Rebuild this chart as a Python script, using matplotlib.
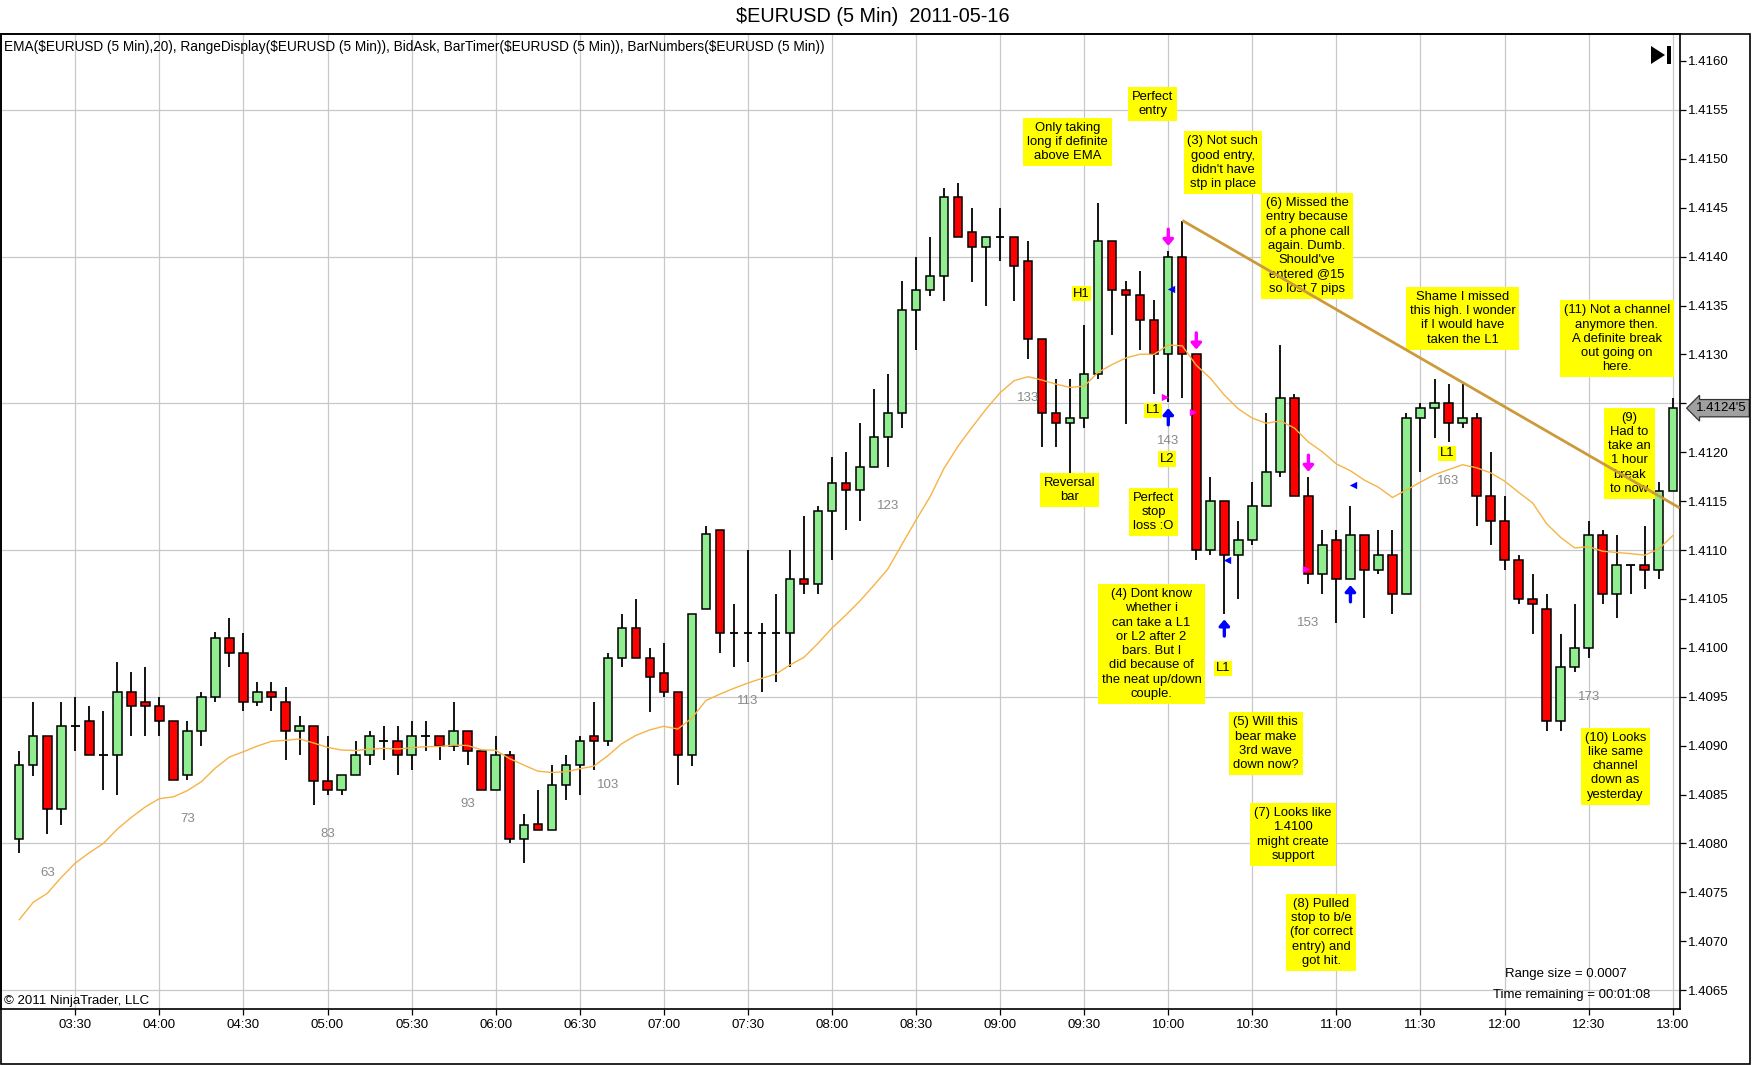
import matplotlib
matplotlib.use("Agg")
import matplotlib.pyplot as plt
from matplotlib.patches import Rectangle, Polygon
from matplotlib.transforms import blended_transform_factory

plt.rcParams['font.family'] = ['Liberation Sans', 'DejaVu Sans']

# bar numbers run 61..179, one bar every 5 minutes from 03:10 to 13:00
first_bar = 61

opens = [1.40805, 1.40880, 1.40910, 1.40835, 1.40920, 1.40925, 1.40890, 1.40890, 1.40955, 1.40945,
         1.40940, 1.40925, 1.40870, 1.40915, 1.40950, 1.41010, 1.40995, 1.40945, 1.40955, 1.40945,
         1.40915, 1.40920, 1.40864, 1.40855, 1.40870, 1.40890, 1.40905, 1.40905, 1.40890, 1.40910,
         1.40910, 1.40900, 1.40915, 1.40895, 1.40855, 1.40890, 1.40805, 1.40820, 1.40814, 1.40860,
         1.40880, 1.40910, 1.40905, 1.40990, 1.41020, 1.40990, 1.40974, 1.40955, 1.40890, 1.41040,
         1.41120, 1.41015, 1.41015, 1.41015, 1.41015, 1.41015, 1.41070, 1.41065, 1.41140, 1.41169,
         1.41161, 1.41185, 1.41216, 1.41240, 1.41345, 1.41366, 1.41380, 1.41461, 1.41425, 1.41410,
         1.41420, 1.41420, 1.41396, 1.41316, 1.41240, 1.41230, 1.41235, 1.41280, 1.41416, 1.41366,
         1.41361, 1.41335, 1.41300, 1.41400, 1.41300, 1.41100, 1.41150, 1.41095, 1.41110, 1.41145,
         1.41180, 1.41255, 1.41155, 1.41075, 1.41110, 1.41070, 1.41115, 1.41080, 1.41095, 1.41055,
         1.41235, 1.41245, 1.41250, 1.41230, 1.41235, 1.41155, 1.41130, 1.41090, 1.41050, 1.41040,
         1.40925, 1.40980, 1.41000, 1.41115, 1.41055, 1.41085, 1.41085, 1.41080, 1.41160]
highs = [1.40895, 1.40945, 1.40910, 1.40945, 1.40950, 1.40940, 1.40935, 1.40985, 1.40975, 1.40980,
         1.40950, 1.40925, 1.40925, 1.40955, 1.41016, 1.41030, 1.41015, 1.40965, 1.40965, 1.40960,
         1.40930, 1.40920, 1.40910, 1.40870, 1.40905, 1.40915, 1.40920, 1.40920, 1.40925, 1.40925,
         1.40910, 1.40945, 1.40915, 1.40895, 1.40910, 1.40895, 1.40830, 1.40855, 1.40880, 1.40890,
         1.40910, 1.40945, 1.40995, 1.41035, 1.41050, 1.41000, 1.41005, 1.40955, 1.41035, 1.41125,
         1.41120, 1.41045, 1.41100, 1.41025, 1.41055, 1.41100, 1.41135, 1.41145, 1.41195, 1.41200,
         1.41230, 1.41265, 1.41280, 1.41375, 1.41400, 1.41420, 1.41470, 1.41475, 1.41450, 1.41420,
         1.41450, 1.41420, 1.41416, 1.41316, 1.41275, 1.41275, 1.41330, 1.41455, 1.41416, 1.41375,
         1.41385, 1.41356, 1.41406, 1.41436, 1.41300, 1.41175, 1.41150, 1.41130, 1.41170, 1.41240,
         1.41310, 1.41260, 1.41175, 1.41120, 1.41120, 1.41145, 1.41115, 1.41120, 1.41120, 1.41240,
         1.41250, 1.41275, 1.41270, 1.41270, 1.41240, 1.41200, 1.41155, 1.41095, 1.41075, 1.41055,
         1.41014, 1.41045, 1.41130, 1.41120, 1.41115, 1.41085, 1.41125, 1.41170, 1.41255]
lows = [1.40790, 1.40869, 1.40810, 1.40819, 1.40895, 1.40890, 1.40855, 1.40850, 1.40910, 1.40910,
        1.40910, 1.40865, 1.40865, 1.40900, 1.40945, 1.40980, 1.40935, 1.40940, 1.40935, 1.40885,
        1.40890, 1.40839, 1.40850, 1.40850, 1.40870, 1.40880, 1.40885, 1.40870, 1.40875, 1.40895,
        1.40885, 1.40895, 1.40880, 1.40855, 1.40855, 1.40800, 1.40780, 1.40814, 1.40814, 1.40844,
        1.40850, 1.40875, 1.40900, 1.40980, 1.40990, 1.40934, 1.40950, 1.40860, 1.40879, 1.41040,
        1.40995, 1.40980, 1.40985, 1.40955, 1.40965, 1.40980, 1.41055, 1.41055, 1.41090, 1.41120,
        1.41130, 1.41185, 1.41185, 1.41225, 1.41305, 1.41360, 1.41355, 1.41420, 1.41374, 1.41350,
        1.41395, 1.41355, 1.41295, 1.41205, 1.41205, 1.41179, 1.41225, 1.41275, 1.41320, 1.41229,
        1.41305, 1.41260, 1.41251, 1.41255, 1.41090, 1.41095, 1.41035, 1.41050, 1.41105, 1.41145,
        1.41175, 1.41155, 1.41065, 1.41055, 1.41025, 1.41070, 1.41030, 1.41075, 1.41035, 1.41055,
        1.41180, 1.41215, 1.41210, 1.41225, 1.41125, 1.41105, 1.41080, 1.41045, 1.41014, 1.40915,
        1.40915, 1.40975, 1.40990, 1.41045, 1.41030, 1.41055, 1.41060, 1.41070, 1.41160]
closes = [1.40880, 1.40910, 1.40835, 1.40920, 1.40920, 1.40890, 1.40890, 1.40955, 1.40940, 1.40940,
          1.40925, 1.40865, 1.40915, 1.40950, 1.41010, 1.40995, 1.40945, 1.40955, 1.40950, 1.40915,
          1.40920, 1.40864, 1.40855, 1.40870, 1.40890, 1.40910, 1.40905, 1.40890, 1.40910, 1.40910,
          1.40900, 1.40915, 1.40895, 1.40855, 1.40890, 1.40805, 1.40819, 1.40814, 1.40860, 1.40880,
          1.40905, 1.40905, 1.40990, 1.41020, 1.40990, 1.40970, 1.40955, 1.40890, 1.41035, 1.41116,
          1.41015, 1.41015, 1.41015, 1.41015, 1.41015, 1.41070, 1.41065, 1.41140, 1.41169, 1.41161,
          1.41185, 1.41216, 1.41240, 1.41345, 1.41366, 1.41380, 1.41461, 1.41420, 1.41410, 1.41420,
          1.41420, 1.41390, 1.41316, 1.41240, 1.41230, 1.41235, 1.41280, 1.41416, 1.41366, 1.41361,
          1.41335, 1.41300, 1.41400, 1.41300, 1.41100, 1.41150, 1.41095, 1.41110, 1.41145, 1.41180,
          1.41255, 1.41155, 1.41075, 1.41105, 1.41070, 1.41115, 1.41080, 1.41095, 1.41055, 1.41235,
          1.41245, 1.41250, 1.41230, 1.41235, 1.41155, 1.41130, 1.41090, 1.41050, 1.41045, 1.40925,
          1.40980, 1.41000, 1.41115, 1.41055, 1.41085, 1.41085, 1.41080, 1.41160, 1.41245]

ema_period = 20
ema_first = 1.40722   # EMA value at the first visible bar

tick_labels = ['03:30', '04:00', '04:30', '05:00', '05:30', '06:00', '06:30', '07:00', '07:30', '08:00',
               '08:30', '09:00', '09:30', '10:00', '10:30', '11:00', '11:30', '12:00', '12:30', '13:00']
tick_first_bar = 65
price_ticks = [1.4065, 1.4070, 1.4075, 1.4080, 1.4085, 1.4090, 1.4095, 1.4100, 1.4105, 1.4110,
               1.4115, 1.4120, 1.4125, 1.4130, 1.4135, 1.4140, 1.4145, 1.4150, 1.4155, 1.4160]
price_grid = [1.4065, 1.4080, 1.4095, 1.4110, 1.4125, 1.4140, 1.4155]
last_price_label = "1.4124'5"

numbered_bars = [63, 73, 83, 93, 103, 113, 123, 133, 143, 153, 163, 173]

# signal markers from the BidAsk / strategy indicators
short_arrows = [143, 145, 153]
long_arrows = [143, 147, 156]
blue_marks = [(143, 1.41367), (147, 1.41090), (156, 1.41166)]
pink_marks = [(143, 1.41256), (145, 1.41241), (153, 1.41081)]

trend_line = [(144, 1.41437), (179.5, 1.41143)]

notes = [
    ("Perfect\nentry", 141.9, 1.41556),
    ("Only taking\nlong if definite\nabove EMA", 135.8, 1.41517),
    ("(3) Not such\ngood entry,\ndidn't have\nstp in place", 146.9, 1.41496),
    ("(6) Missed the\nentry because\nof a phone call\nagain. Dumb.\nShould've\nentered @15\nso lost 7 pips", 152.9, 1.41411),
    ("Shame I missed\nthis high. I wonder\nif I would have\ntaken the L1", 164.0, 1.41337),
    ("(11) Not a channel\nanymore then.\nA definite break\nout going on\nhere.", 175.0, 1.41316),
    ("(9)\nHad to\ntake an\n1 hour\nbreak\nto now", 175.9, 1.41199),
    ("Reversal\nbar", 135.95, 1.41161),
    ("Perfect\nstop\nloss :O", 141.95, 1.41139),
    ("(4) Dont know\nwhether i\ncan take a L1\nor L2 after 2\nbars. But I\ndid because of\nthe neat up/down\ncouple.", 141.8, 1.41004),
    ("(5) Will this\nbear make\n3rd wave\ndown now?", 149.96, 1.40902),
    ("(7) Looks like\n1.4100\nmight create\nsupport", 151.9, 1.40809),
    ("(8) Pulled\nstop to b/e\n(for correct\nentry) and\ngot hit.", 153.9, 1.40709),
    ("(10) Looks\nlike same\nchannel\ndown as\nyesterday", 174.9, 1.40879),
]
tags = [("H1", 136.8, 1.41362), ("L1", 141.9, 1.41243), ("L2", 142.9, 1.41193),
        ("L1", 146.9, 1.40979), ("L1", 162.9, 1.41199)]

W, H = 1752, 1065
fig = plt.figure(figsize=(W / 100, H / 100), dpi=100)
fig.patch.set_facecolor('white')
ax = fig.add_axes([0.5 / W, 1 - 1009 / H, 1679.5 / W, (1009 - 34) / H])

bars = list(range(first_bar, first_bar + len(closes)))

# grid
for p in price_grid:
    ax.axhline(p, color='#c8c8c8', lw=0.9, zorder=0)
tick_pos = [tick_first_bar + 6 * k for k in range(len(tick_labels))]
for t in tick_pos:
    ax.axvline(t, color='#c8c8c8', lw=0.9, zorder=0)

# candles
ax.vlines(bars, lows, highs, color='black', lw=1.3, zorder=2)
for b, o, c in zip(bars, opens, closes):
    if c > o:
        ax.add_patch(Rectangle((b - 0.3, o), 0.6, c - o, fc='#90ee90', ec='black', lw=1.1, zorder=3))
    elif c < o:
        ax.add_patch(Rectangle((b - 0.3, c), 0.6, o - c, fc='#ff0000', ec='black', lw=1.1, zorder=3))
    else:
        ax.hlines(c, b - 0.3, b + 0.3, color='black', lw=1.3, zorder=3)

# EMA(20)
alpha = 2 / (ema_period + 1)
ema = [ema_first]
for c in closes[1:]:
    ema.append(ema[-1] + alpha * (c - ema[-1]))
ax.plot(bars, ema, color='#f5b445', lw=1.0, zorder=4)

# bar numbers under the lows
for n in numbered_bars:
    i = n - first_bar
    ax.annotate(str(n), (n, lows[i]), xytext=(0, -39), textcoords='offset pixels',
                ha='center', va='center', fontsize=9.5, color='#888888', zorder=4)

# arrows
arrow_style = '-|>,head_length=0.35,head_width=0.3'
for n in short_arrows:
    i = n - first_bar
    ax.annotate('', xy=(n, highs[i] + 0.00005), xytext=(n, highs[i] + 0.00022),
                arrowprops=dict(arrowstyle=arrow_style, color='#ff00ff', lw=2.4, shrinkA=0, shrinkB=0),
                zorder=5)
for n in long_arrows:
    i = n - first_bar
    ax.annotate('', xy=(n, lows[i] - 0.00006), xytext=(n, lows[i] - 0.00023),
                arrowprops=dict(arrowstyle=arrow_style, color='#0000ff', lw=2.4, shrinkA=0, shrinkB=0),
                zorder=5)
ax.scatter([b + 0.2 for b, p in blue_marks], [p for b, p in blue_marks], marker='<', s=28,
           color='#0000ff', zorder=5, linewidths=0)
ax.scatter([b - 0.2 for b, p in pink_marks], [p for b, p in pink_marks], marker='>', s=28,
           color='#ff00ff', zorder=5, linewidths=0)

# notes
for s, x, y in notes:
    ax.text(x, y, s, ha='center', va='center', fontsize=9.4, linespacing=1.25, zorder=6,
            bbox=dict(boxstyle='square,pad=0.3', fc='#ffff00', ec='none'))
for s, x, y in tags:
    ax.text(x, y, s, ha='center', va='center', fontsize=9.4, zorder=6,
            bbox=dict(boxstyle='square,pad=0.12', fc='#ffff00', ec='none'))

# trend line drawn on the chart
ax.plot([p[0] for p in trend_line], [p[1] for p in trend_line], color='#cc9a3a', lw=2.0,
        zorder=7, solid_capstyle='butt')

ax.set_xlim(59.66, 179.52)
ax.set_ylim(1.406307, 1.416276)

ax.set_xticks(tick_pos)
ax.set_xticklabels(tick_labels)
ax.set_yticks(price_ticks)
# the 1.4125 label sits under the last-price marker
ax.set_yticklabels(['' if abs(p - 1.4125) < 1e-6 else '%.4f' % p for p in price_ticks])
ax.yaxis.tick_right()
ax.tick_params(axis='both', direction='out', length=4, width=0.9, labelsize=9.5, pad=2, colors='black')
ax.tick_params(axis='x', pad=3)
for sp in ax.spines.values():
    sp.set_linewidth(1.2)

# current price marker
tr = blended_transform_factory(ax.transAxes, ax.transData)
ax.annotate(last_price_label, xy=(1.0, closes[-1]), xycoords=tr, xytext=(16, 0), textcoords='offset pixels',
            ha='left', va='center', fontsize=9.5, color='black', zorder=10, annotation_clip=False,
            bbox=dict(boxstyle='larrow,pad=0.2', fc='#a0a0a0', ec='#333333', lw=0.9))

# texts inside the panel
ax.text(0.002, 1 - (47 - 34) / 975, "EMA($EURUSD (5 Min),20), RangeDisplay($EURUSD (5 Min)), BidAsk, "
        "BarTimer($EURUSD (5 Min)), BarNumbers($EURUSD (5 Min))", transform=ax.transAxes,
        ha='left', va='center', fontsize=9.8, parse_math=False)
ax.text(0.002, (1009 - 1001) / 975, "\u00a9 2011 NinjaTrader, LLC", transform=ax.transAxes,
        ha='left', va='center', fontsize=9.5)
ax.text((1566 - 0.5) / 1679.5, (1009 - 974) / 975, "Range size = 0.0007", transform=ax.transAxes,
        ha='center', va='center', fontsize=9.5)
ax.text((1572 - 0.5) / 1679.5, (1009 - 995) / 975, "Time remaining = 00:01:08", transform=ax.transAxes,
        ha='center', va='center', fontsize=9.5)

# "go to end" button
fig.patches.append(Polygon([[1651 / W, 1 - 46 / H], [1651 / W, 1 - 64 / H], [1665 / W, 1 - 55 / H]],
                           closed=True, fc='black', ec='none', transform=fig.transFigure, figure=fig))
fig.patches.append(Rectangle((1667 / W, 1 - 64 / H), 4 / W, 18 / H, fc='black', ec='none',
                             transform=fig.transFigure, figure=fig))

# outer frame and title
fig.patches.append(Rectangle((0.5 / W, 1 - 1064 / H), 1749.5 / W, 1030 / H, fill=False, ec='black',
                             lw=1.2, transform=fig.transFigure, figure=fig))
fig.text(873 / W, 1 - 16 / H, "$EURUSD (5 Min)  2011-05-16", ha='center', va='center', fontsize=14.3)

fig.savefig('out.png', dpi=100)
